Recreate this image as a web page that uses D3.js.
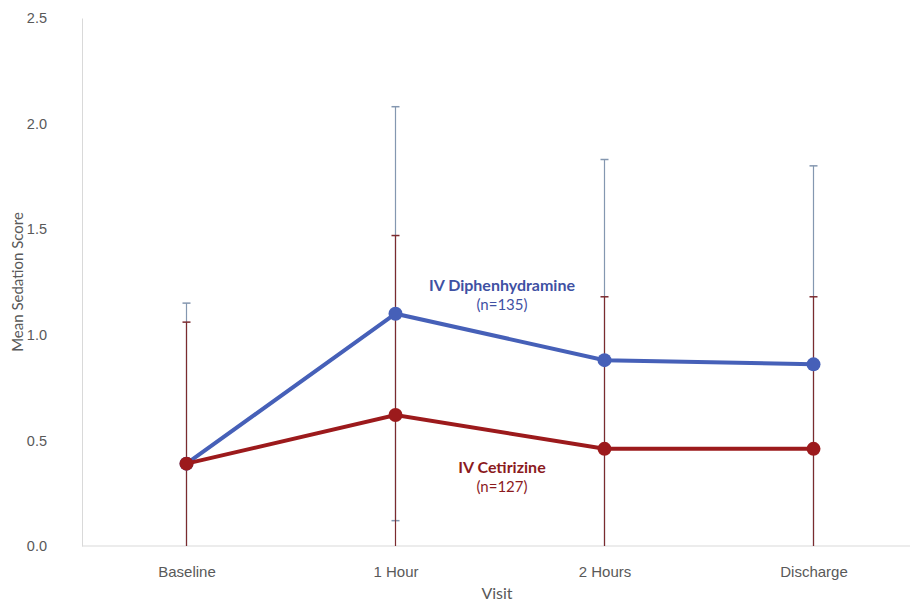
<!DOCTYPE html>
<html>
<head>
<meta charset="utf-8">
<script src="https://cdn.jsdelivr.net/npm/d3@7"></script>
<style>
  body { margin: 0; background: #fff; }
  svg { display: block; font-family: Lato, "Open Sans", sans-serif; }
</style>
</head>
<body>
<svg id="chart"></svg>
<script>
// visits on the x axis
var visits = ['Baseline', '1 Hour', '2 Hours', 'Discharge'];

// mean sedation score and standard deviation per visit
var diphenMean = [0.39, 1.10, 0.88, 0.86];
var diphenSd = [0.76, 0.98, 0.95, 0.94];
var cetirMean = [0.39, 0.62, 0.46, 0.46];
var cetirSd = [0.67, 0.85, 0.72, 0.72];

var yTicks = [0, 0.5, 1.0, 1.5, 2.0, 2.5];

var width = 910,
    height = 604,
    margin = { top: 18, right: 0, bottom: 58, left: 82 };

var svg = d3.select('#chart')
    .attr('width', width)
    .attr('height', height);

var x = d3.scalePoint()
    .domain(visits)
    .range([margin.left, 918])
    .padding(0.5);

var y = d3.scaleLinear()
    .domain([0, 2.5])
    .range([height - margin.bottom, margin.top]);

// y axis: light line, no ticks
var yAxis = svg.append('g')
    .attr('transform', 'translate(' + margin.left + ',0)')
    .call(d3.axisLeft(y).tickValues(yTicks).tickFormat(d3.format('.1f')).tickSize(0).tickPadding(35));
yAxis.select('.domain').attr('stroke', '#d9d9d9');
yAxis.selectAll('text').attr('fill', '#595959').style('font-size', '14.5px');

// x axis
var xAxis = svg.append('g')
    .attr('transform', 'translate(0,' + y(0) + ')')
    .call(d3.axisBottom(x).tickSize(0).tickPadding(20));
xAxis.select('.domain').attr('stroke', '#d9d9d9').attr('d', 'M' + margin.left + ',0H' + width);
xAxis.selectAll('text').attr('fill', '#595959').style('font-size', '15px');

// axis titles
svg.append('text')
    .attr('transform', 'translate(23,' + y(1.25) + ') rotate(-90)')
    .attr('text-anchor', 'middle')
    .attr('fill', '#595959')
    .style('font-size', '15px')
    .text('Mean Sedation Score');

svg.append('text')
    .attr('x', 497)
    .attr('y', 599)
    .attr('text-anchor', 'middle')
    .attr('fill', '#595959')
    .style('font-size', '16px')
    .text('Visit');

function series(mean, sd) {
    return visits.map(function (v, i) {
        return { visit: v, mean: mean[i], sd: sd[i] };
    });
}

var groups = [
    { data: series(diphenMean, diphenSd), line: '#4660b8', err: '#8497b0' },
    { data: series(cetirMean, cetirSd), line: '#9c1a1c', err: '#7b2b2f' }
];

var line = d3.line()
    .x(function (d) { return x(d.visit); })
    .y(function (d) { return y(d.mean); });

// error bars first, blue under red
groups.forEach(function (g) {
    var eg = svg.append('g');
    g.data.forEach(function (d) {
        var hi = d.mean + d.sd,
            lo = Math.max(0, d.mean - d.sd),
            cx = x(d.visit);
        eg.append('line')
            .attr('x1', cx).attr('x2', cx)
            .attr('y1', y(hi)).attr('y2', y(lo))
            .attr('stroke', g.err).attr('stroke-width', 1.2);
        eg.append('line')
            .attr('x1', cx - 4).attr('x2', cx + 4)
            .attr('y1', y(hi)).attr('y2', y(hi))
            .attr('stroke', g.err).attr('stroke-width', 1.5);
        if (d.mean - d.sd > 0) {
            eg.append('line')
                .attr('x1', cx - 4).attr('x2', cx + 4)
                .attr('y1', y(lo)).attr('y2', y(lo))
                .attr('stroke', g.err).attr('stroke-width', 1.5);
        }
    });
});

// lines and markers
groups.forEach(function (g) {
    svg.append('path')
        .datum(g.data)
        .attr('d', line)
        .attr('fill', 'none')
        .attr('stroke', g.line)
        .attr('stroke-width', 4);

    svg.append('g')
        .selectAll('circle')
        .data(g.data)
        .enter().append('circle')
        .attr('cx', function (d) { return x(d.visit); })
        .attr('cy', function (d) { return y(d.mean); })
        .attr('r', 7)
        .attr('fill', g.line);
});

// series labels
var labels = [
    { name: 'IV Diphenhydramine', n: '(n=135)', x: 502, y: 291, color: '#3f51a3' },
    { name: 'IV Cetirizine', n: '(n=127)', x: 502, y: 473, color: '#8b1a1d' }
];

labels.forEach(function (l) {
    svg.append('text')
        .attr('x', l.x).attr('y', l.y)
        .attr('text-anchor', 'middle')
        .attr('fill', l.color)
        .style('font-size', '16px')
        .style('font-weight', 'bold')
        .text(l.name);
    svg.append('text')
        .attr('x', l.x).attr('y', l.y + 19)
        .attr('text-anchor', 'middle')
        .attr('fill', l.color)
        .style('font-size', '15px')
        .text(l.n);
});
</script>
</body>
</html>
